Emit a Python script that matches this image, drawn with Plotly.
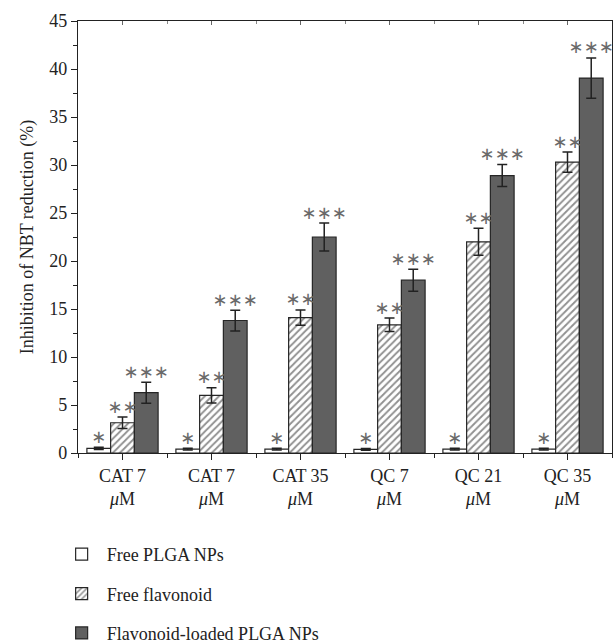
import plotly.graph_objects as go

categories = ["CAT 7<br><i>μ</i>M", "CAT 7<br><i>μ</i>M", "CAT 35<br><i>μ</i>M",
              "QC 7<br><i>μ</i>M", "QC 21<br><i>μ</i>M", "QC 35<br><i>μ</i>M"]
series_names = ["Free PLGA NPs", "Free flavonoid", "Flavonoid-loaded PLGA NPs"]
free_plga = [0.48, 0.4, 0.4, 0.38, 0.4, 0.4]
free_plga_err = [0.12, 0.1, 0.1, 0.1, 0.1, 0.1]
free_flav = [3.15, 6.0, 14.1, 13.35, 22.0, 30.3]
free_flav_err = [0.6, 0.8, 0.8, 0.7, 1.4, 1.05]
loaded = [6.28, 13.8, 22.5, 18.0, 28.9, 39.05]
loaded_err = [1.1, 1.08, 1.45, 1.15, 1.15, 2.1]
stars = ["∗", "∗∗", "∗∗∗"]

FONT = "Liberation Serif"
x = list(range(len(categories)))
values = [free_plga, free_flav, loaded]
errors = [free_plga_err, free_flav_err, loaded_err]
fills = ["white", "white", "#606060"]
patterns = [dict(shape=""), dict(shape="/", fgcolor="#222222", bgcolor="white", size=5, solidity=0.38), dict(shape="")]

fig = go.Figure()
for k in range(3):
    fig.add_trace(go.Bar(
        x=x, y=values[k], name=series_names[k], legendgroup=f"g{k}",
        marker=dict(color=fills[k], line=dict(color="#262626", width=1.2), pattern=patterns[k]),
        error_y=dict(type="data", array=errors[k], color="#222222", thickness=1.5, width=5),
    ))

ngroups = 3
group_w = 0.8
bar_w = group_w / ngroups
for k in range(3):
    off = (k - 1) * bar_w
    fig.add_trace(go.Scatter(
        x=[xi + off for xi in x],
        y=[v + e for v, e in zip(values[k], errors[k])],
        mode="text", text=[stars[k]] * len(x), textposition="top center",
        textfont=dict(family="DejaVu Sans", size=18, color="#6a6a6a"),
        showlegend=False, hoverinfo="skip", cliponaxis=False,
    ))

fig.update_layout(
    width=613, height=643,
    margin=dict(l=78, r=1, t=21, b=190, autoexpand=False),
    paper_bgcolor="white", plot_bgcolor="white",
    barmode="group", bargap=0.2, bargroupgap=0,
    font=dict(family=FONT, size=18, color="#222222"),
    showlegend=True,
    legend=dict(x=-0.04, y=-0.192, xanchor="left", yanchor="top",
                orientation="v", tracegroupgap=13, font=dict(family=FONT, size=18),
                itemwidth=40, bgcolor="rgba(0,0,0,0)"),
    xaxis=dict(range=[-0.5, 5.5], tickmode="array", tickvals=x, ticktext=categories,
               showline=True, linecolor="#222222", linewidth=1.2, mirror=True,
               ticks="outside", ticklen=6, tickcolor="#222222", automargin=False,
               minor=dict(tickmode="linear", tick0=-0.5, dtick=1, ticks="outside", ticklen=4, tickcolor="#222222"),
               showgrid=False, zeroline=False, tickfont=dict(size=18)),
    xaxis2=dict(range=[-0.5, 5.5], overlaying="x", side="top", tickmode="array", tickvals=x,
                showticklabels=False, ticks="inside", ticklen=4, tickcolor="#666666", automargin=False,
                minor=dict(tickmode="linear", tick0=-0.5, dtick=1, ticks="inside", ticklen=3, tickcolor="#888888"),
                showgrid=False, zeroline=False),
    yaxis=dict(range=[0, 45], tickmode="linear", tick0=0, dtick=5,
               showline=True, linecolor="#222222", linewidth=1.2, mirror=True,
               ticks="outside", ticklen=6, tickcolor="#222222", automargin=False,
               minor=dict(dtick=2.5, ticks="outside", ticklen=4, tickcolor="#222222"),
               showgrid=False, zeroline=False, tickfont=dict(size=18),
               title=dict(text="Inhibition of NBT reduction (%)", font=dict(size=18), standoff=10)),
)
fig.add_trace(go.Scatter(x=[None], y=[None], xaxis="x2", showlegend=False, hoverinfo="skip"))
fig.write_html("out.html", config={"displayModeBar": False},
               post_script="document.body.style.margin='0px';document.body.style.overflow='hidden';")
